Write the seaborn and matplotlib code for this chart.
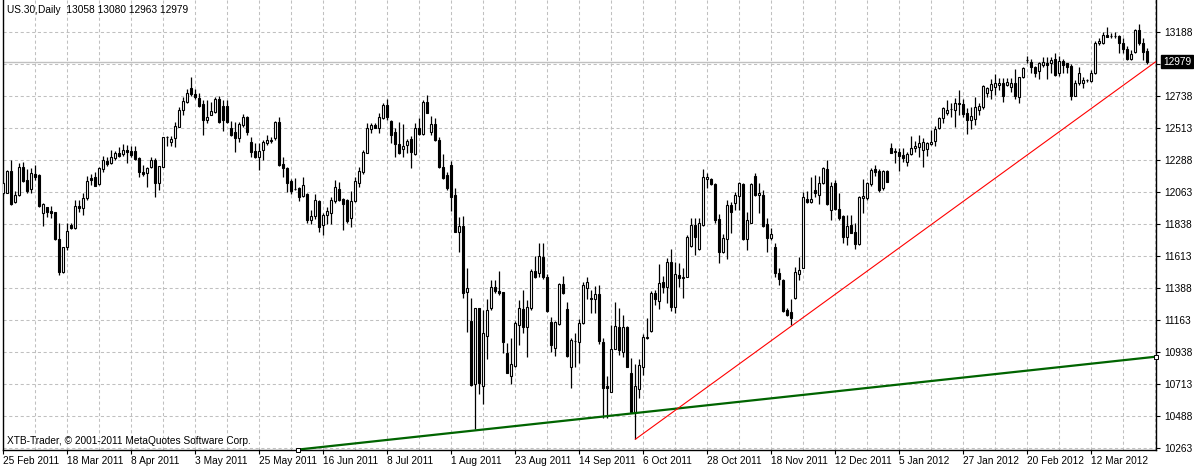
import numpy as np
import pandas as pd
import matplotlib
matplotlib.use("Agg")
import matplotlib.pyplot as plt
import matplotlib.transforms as mtransforms
import seaborn as sns

# US.30 daily candles (bar index 0 = 25 Feb 2011)
opens = [12054, 12059, 12211, 11995, 12043, 12242, 12148, 12082, 12188, 12183,
         11913, 11958, 11930, 11923, 11733, 11503, 11674, 11834, 11808, 11965,
         11953, 12019, 12160, 12171, 12118, 12223, 12282, 12265, 12305, 12336,
         12329, 12359, 12355, 12355, 12305, 12204, 12195, 12237, 12289, 12125,
         12242, 12448, 12418, 12441, 12524, 12641, 12699, 12793, 12753, 12728,
         12683, 12570, 12606, 12629, 12716, 12669, 12669, 12512, 12488, 12441,
         12535, 12594, 12418, 12355, 12312, 12359, 12406, 12425, 12441, 12559,
         12261, 12230, 12141, 12087, 12089, 12035, 12049, 11866, 11897, 11998,
         11831, 11902, 11913, 12003, 12085, 12012, 12007, 11878, 12003, 12129,
         12207, 12340, 12509, 12533, 12516, 12582, 12676, 12563, 12488, 12399,
         12369, 12392, 12437, 12331, 12512, 12470, 12695, 12488, 12540, 12430,
         12237, 12183, 12254, 12042, 11784, 11824, 11357, 11155, 10709, 11244,
         10698, 11050, 11245, 11397, 11369, 11357, 10928, 10768, 10841, 11127,
         11237, 11111, 11245, 11507, 11491, 11604, 11463, 11146, 10968, 11134,
         11416, 11237, 10829, 11012, 11005, 11139, 11385, 11315, 11308, 11343,
         11010, 10698, 10658, 10958, 11115, 10939, 11111, 10787, 10517, 10674,
         10834, 11035, 11087, 11350, 11298, 11432, 11397, 11573, 11256, 11479,
         11456, 11467, 11683, 11831, 11660, 11831, 12153, 12153, 12117, 11871,
         11643, 11730, 11972, 11988, 12035, 12117, 11730, 11847, 12176, 12042,
         12042, 11838, 11737, 11678, 11495, 11444, 11233, 11221, 11315, 11484,
         11531, 12014, 11995, 12077, 12042, 12129, 12223, 11937, 12124, 11941,
         11894, 11749, 11831, 11784, 11697, 12019, 12019, 12120, 12223, 12211,
         12089, 12211, 12371, 12350, 12348, 12324, 12277, 12329, 12375, 12383,
         12359, 12364, 12401, 12425, 12512, 12582, 12622, 12645, 12641, 12683,
         12683, 12617, 12570, 12575, 12641, 12659, 12763, 12781, 12805, 12817,
         12833, 12817, 12805, 12833, 12730, 12871, 12993, 12981, 12946, 12915,
         12957, 12969, 12969, 12997, 12903, 12988, 12969, 12950, 12739, 12828,
         12828, 12850, 12847, 12899, 13110, 13110, 13169, 13164, 13162, 13162,
         13110, 13068, 12997, 13051, 13204, 13115, 13058]
highs = [12136, 12219, 12289, 12071, 12265, 12277, 12223, 12235, 12254, 12190,
         11989, 11960, 11967, 11925, 11843, 11679, 11843, 11843, 12007, 12007,
         12054, 12176, 12190, 12202, 12242, 12319, 12312, 12359, 12355, 12378,
         12401, 12394, 12390, 12387, 12312, 12254, 12242, 12312, 12301, 12247,
         12453, 12458, 12458, 12559, 12664, 12730, 12786, 12875, 12786, 12758,
         12711, 12711, 12699, 12735, 12739, 12711, 12711, 12566, 12554, 12559,
         12613, 12599, 12448, 12406, 12406, 12430, 12465, 12453, 12563, 12594,
         12308, 12242, 12155, 12160, 12096, 12171, 12054, 11937, 12049, 12007,
         11918, 11960, 12026, 12148, 12134, 12019, 12012, 12070, 12171, 12237,
         12359, 12547, 12547, 12552, 12622, 12692, 12718, 12570, 12516, 12556,
         12542, 12439, 12458, 12552, 12582, 12711, 12746, 12599, 12582, 12448,
         12331, 12207, 12284, 12089, 11890, 11895, 11526, 11315, 11249, 11249,
         11233, 11308, 11444, 11444, 11507, 11362, 10998, 11033, 11158, 11303,
         11374, 11303, 11519, 11613, 11702, 11702, 11484, 11181, 11158, 11425,
         11474, 11291, 11038, 11068, 11167, 11432, 11463, 11373, 11401, 11409,
         11038, 10768, 11127, 11287, 11244, 11197, 11120, 10892, 10852, 10888,
         11061, 11174, 11366, 11373, 11554, 11472, 11596, 11660, 11573, 11566,
         11526, 11761, 11878, 11878, 11878, 12223, 12195, 12160, 12124, 11908,
         11765, 12007, 11995, 12066, 12136, 12124, 11925, 12124, 12199, 12124,
         12077, 11878, 11808, 11702, 11526, 11448, 11244, 11308, 11538, 11608,
         12066, 12073, 12171, 12183, 12176, 12242, 12289, 12136, 12148, 12059,
         11901, 11901, 11901, 11847, 12035, 12153, 12136, 12230, 12254, 12223,
         12218, 12218, 12411, 12371, 12375, 12371, 12347, 12458, 12425, 12465,
         12441, 12418, 12500, 12528, 12589, 12664, 12711, 12688, 12723, 12781,
         12716, 12652, 12659, 12730, 12692, 12817, 12805, 12857, 12894, 12864,
         12864, 12864, 12864, 12927, 12875, 12946, 13021, 12997, 12950, 12981,
         13011, 13016, 13011, 13040, 13021, 12997, 12974, 12965, 12852, 12941,
         12875, 12857, 12922, 13129, 13145, 13192, 13223, 13180, 13192, 13169,
         13145, 13091, 13063, 13209, 13246, 13145, 13080]
lows = [12043, 12054, 11975, 11984, 12038, 12136, 12054, 12054, 12148, 11960,
        11824, 11885, 11878, 11725, 11479, 11491, 11655, 11801, 11801, 11925,
        11902, 12007, 12113, 12108, 12113, 12207, 12247, 12258, 12289, 12312,
        12319, 12265, 12312, 12289, 12172, 12176, 12101, 12230, 12031, 12078,
        12237, 12387, 12387, 12378, 12519, 12606, 12692, 12739, 12716, 12664,
        12465, 12547, 12606, 12622, 12547, 12495, 12547, 12458, 12348, 12418,
        12524, 12465, 12312, 12301, 12219, 12289, 12394, 12406, 12430, 12247,
        12172, 12066, 12049, 12078, 12003, 12031, 11848, 11838, 11873, 11784,
        11761, 11838, 11838, 11988, 12003, 11796, 11848, 11815, 11996, 12101,
        12190, 12336, 12477, 12512, 12477, 12575, 12570, 12406, 12312, 12331,
        12312, 12336, 12235, 12324, 12465, 12462, 12617, 12465, 12423, 12230,
        12153, 12078, 11932, 11780, 11643, 11315, 11080, 10700, 10393, 10641,
        10571, 10885, 11233, 11350, 11338, 10928, 10787, 10712, 10834, 10987,
        11069, 10904, 11233, 11460, 11467, 11449, 11221, 10940, 10909, 11127,
        11345, 10904, 10681, 10829, 10862, 11134, 11308, 11214, 11214, 10993,
        10470, 10470, 10658, 10956, 10916, 10904, 10829, 10510, 10322, 10611,
        10775, 11026, 11080, 11268, 11237, 11355, 11280, 11228, 11214, 11397,
        11315, 11462, 11674, 11620, 11655, 11824, 12089, 12113, 11847, 11566,
        11636, 11589, 11772, 11937, 11937, 11725, 11655, 11843, 12035, 11913,
        11819, 11643, 11725, 11467, 11409, 11221, 11190, 11127, 11310, 11444,
        11526, 11983, 11983, 12031, 11979, 12120, 11972, 11866, 11937, 11866,
        11702, 11690, 11772, 11660, 11690, 11918, 12007, 12106, 12176, 12066,
        12078, 12131, 12336, 12265, 12213, 12277, 12249, 12324, 12347, 12312,
        12242, 12317, 12394, 12387, 12505, 12547, 12605, 12594, 12519, 12605,
        12594, 12472, 12505, 12535, 12605, 12645, 12734, 12718, 12746, 12781,
        12699, 12810, 12770, 12716, 12692, 12863, 12974, 12899, 12871, 12857,
        12946, 12857, 12903, 12880, 12880, 12899, 12899, 12711, 12739, 12817,
        12793, 12840, 12840, 12894, 13098, 13105, 13152, 13145, 13145, 13044,
        13040, 12993, 12993, 13044, 13098, 12993, 12963]
closes = [12125, 12211, 11977, 12043, 12237, 12143, 12073, 12195, 12172, 11965,
          11979, 11925, 11918, 11730, 11503, 11674, 11787, 11808, 11965, 11949,
          12019, 12141, 12148, 12108, 12235, 12289, 12258, 12308, 12336, 12319,
          12359, 12348, 12324, 12294, 12202, 12188, 12235, 12289, 12125, 12247,
          12448, 12453, 12434, 12528, 12641, 12704, 12758, 12751, 12730, 12669,
          12570, 12594, 12634, 12716, 12559, 12570, 12559, 12465, 12441, 12542,
          12589, 12488, 12348, 12312, 12355, 12418, 12430, 12427, 12559, 12254,
          12230, 12129, 12073, 12085, 12026, 12110, 11866, 11895, 12007, 11819,
          11904, 11927, 12007, 12096, 12007, 11979, 11862, 12000, 12141, 12214,
          12347, 12512, 12533, 12516, 12589, 12676, 12594, 12465, 12401, 12340,
          12387, 12423, 12347, 12512, 12472, 12699, 12622, 12542, 12430, 12242,
          12164, 12089, 12026, 11784, 11824, 11350, 11385, 10705, 11249, 10717,
          11068, 11233, 11397, 11369, 11350, 11010, 10792, 10853, 11139, 11249,
          11115, 11256, 11507, 11467, 11613, 11467, 11228, 10986, 11146, 11416,
          11350, 10909, 11022, 11017, 11139, 11409, 11427, 11312, 11343, 11017,
          10681, 10681, 10958, 11122, 10951, 11115, 10834, 10517, 10698, 10845,
          11040, 11040, 11350, 11308, 11420, 11397, 11573, 11251, 11484, 11456,
          11467, 11744, 11831, 11744, 11843, 12167, 12167, 12117, 11866, 11643,
          11737, 11972, 11925, 12042, 12129, 11730, 11866, 12117, 12042, 12059,
          11824, 11737, 11765, 11491, 11448, 11228, 11197, 11174, 11502, 11514,
          12031, 11995, 12014, 12059, 12124, 12230, 11976, 12106, 11941, 11878,
          11749, 11824, 11777, 11697, 12031, 12035, 12124, 12218, 12207, 12078,
          12211, 12136, 12340, 12345, 12317, 12301, 12329, 12375, 12390, 12406,
          12413, 12406, 12418, 12505, 12582, 12652, 12641, 12645, 12688, 12688,
          12610, 12570, 12598, 12659, 12669, 12810, 12793, 12824, 12828, 12833,
          12739, 12840, 12828, 12739, 12871, 12934, 12995, 12941, 12899, 12974,
          12981, 12957, 12993, 12887, 12988, 12957, 12946, 12739, 12833, 12903,
          12852, 12852, 12903, 13115, 13129, 13169, 13157, 13162, 13160, 13110,
          13068, 12997, 13033, 13204, 13110, 13051, 12979]

date_labels = ["25 Feb 2011", "18 Mar 2011", "8 Apr 2011", "3 May 2011",
               "25 May 2011", "16 Jun 2011", "8 Jul 2011", "1 Aug 2011",
               "23 Aug 2011", "14 Sep 2011", "6 Oct 2011", "28 Oct 2011",
               "18 Nov 2011", "12 Dec 2011", "5 Jan 2012", "27 Jan 2012",
               "20 Feb 2012", "12 Mar 2012"]
price_ticks = [10263, 10488, 10713, 10938, 11163, 11388, 11613, 11838,
               12063, 12288, 12513, 12738, 12963, 13188]
last_price = 12979

# trendlines drawn on the chart (bar index, price)
green_x = [73.7, 288.2]
green_y = [10250, 10904]
red_x = [158, 289]
red_y = [10322, 12998]

df = pd.DataFrame({"open": opens, "high": highs, "low": lows, "close": closes})
df["bar"] = np.arange(len(df))
up = df["close"] >= df["open"]

sns.set_theme(style="white")
plt.rcParams["font.family"] = ["Liberation Sans", "DejaVu Sans"]

fig = plt.figure(figsize=(11.94, 4.67), dpi=100)
ax = fig.add_axes([2.5 / 1194, 17 / 467, 1153.5 / 1194, 450 / 467])
ax.set_facecolor("white")

# grid
grid_kw = dict(color="#c0c0c0", lw=0.75, ls=(0, (3, 2.5)), zorder=0)
for b in range(0, 289, 8):
    ax.axvline(b, **grid_kw)
for p in price_ticks:
    ax.axhline(p, **grid_kw)
ax.axhline(last_price, color="#c0c0c0", lw=1, zorder=0.5)

# candles
ax.vlines(df["bar"], df["low"], df["high"], color="black", lw=0.9, zorder=2)
ax.bar(df["bar"][up], (df["close"] - df["open"])[up], bottom=df["open"][up],
       width=0.5, color="white", edgecolor="black", lw=0.8, zorder=3)
ax.bar(df["bar"][~up], (df["open"] - df["close"])[~up], bottom=df["close"][~up],
       width=0.5, color="black", edgecolor="black", lw=0.8, zorder=3)

# trendlines
sns.lineplot(x=green_x, y=green_y, ax=ax, color="#006400", lw=1.6, zorder=4)
ax.plot(green_x, green_y, ls="none", marker="s", ms=3.5, mfc="white",
        mec="black", mew=0.7, zorder=5, clip_on=False)
sns.lineplot(x=red_x, y=red_y, ax=ax, color="#ff0000", lw=0.8, zorder=4)

ax.set_xlim(-0.2, 288.2)
ax.set_ylim(10247, 13415)

# axes styling
for s in ["left", "right", "bottom"]:
    ax.spines[s].set_visible(True)
    ax.spines[s].set_color("black")
    ax.spines[s].set_linewidth(1)
ax.spines["top"].set_visible(False)

ax.yaxis.tick_right()
ax.set_yticks(price_ticks)
ax.set_yticklabels([str(p) if p != 12963 else "" for p in price_ticks])
ax.tick_params(axis="y", which="major", direction="out", length=3, width=0.8,
               pad=3, labelsize=7.3, colors="black", right=True, left=False)

ax.set_xticks(np.arange(0, 16 * len(date_labels), 16))
ax.set_xticklabels(date_labels, ha="left")
ax.tick_params(axis="x", which="major", direction="out", length=3, width=0.8,
               pad=1, labelsize=7.3, colors="black", bottom=True)
ax.set_xlabel("")
ax.set_ylabel("")

# current price box
trans = mtransforms.blended_transform_factory(ax.transAxes, ax.transData)
ax.text(1.0 + 7 / 1154, last_price, str(last_price), transform=trans,
        ha="left", va="center", fontsize=7.3, color="white",
        bbox=dict(boxstyle="square,pad=0.15", fc="black", ec="black"),
        clip_on=False, zorder=6)

ax.text(5 / 1154, 1 - 10 / 450, "US.30,Daily  13058 13080 12963 12979",
        transform=ax.transAxes, ha="left", va="center", fontsize=7.3, color="black")
ax.text(5 / 1154, 9 / 450, "XTB-Trader, \u00a9 2001-2011 MetaQuotes Software Corp.",
        transform=ax.transAxes, ha="left", va="center", fontsize=7.3, color="black")

fig.savefig("out.png", dpi=100)
